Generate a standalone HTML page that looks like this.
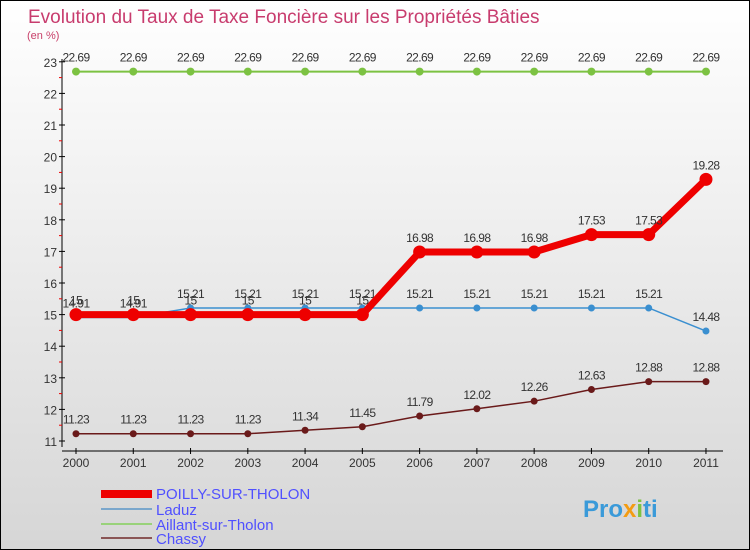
<!DOCTYPE html>
<html><head><meta charset="utf-8"><style>
body{margin:0}
#c{position:relative;width:748px;height:548px;border:1px solid #000;background:linear-gradient(#fff,#d6d6d6);font-family:"Liberation Sans",sans-serif;overflow:hidden}
</style></head><body>
<div id="c">
<svg id="s" width="748" height="548">
<text x="27" y="22" font-size="19" fill="#c83c6e" font-weight="normal">Evolution du Taux de Taxe Foncière sur les Propriétés Bâties</text>
<text x="26" y="38" font-size="11" fill="#c8406a">(en %)</text>
<g id="g"></g>
<g>
<rect x="100" y="489" width="51" height="8" fill="#e00"/>
<text x="155" y="498" font-size="15" fill="#5050ff">POILLY-SUR-THOLON</text>
<rect x="100" y="507" width="51" height="2" fill="#7ba7cc"/>
<text x="155" y="514" font-size="15" fill="#5050ff">Laduz</text>
<rect x="100" y="522" width="51" height="2" fill="#99d27a"/>
<text x="155" y="529" font-size="15" fill="#5050ff">Aillant-sur-Tholon</text>
<rect x="100" y="536" width="51" height="2" fill="#8a5555"/>
<text x="155" y="543" font-size="15" fill="#5050ff">Chassy</text>
</g>
<text x="582" y="516" font-size="24" font-weight="bold" fill="#3a9ad9">Pro<tspan fill="#f39c12">x</tspan><tspan fill="#7cc242">i</tspan>ti</text>
</svg>
</div>
<script>
const years=[2000,2001,2002,2003,2004,2005,2006,2007,2008,2009,2010,2011];
const poilly=[15,15,15,15,15,15,16.98,16.98,16.98,17.53,17.53,19.28];
const laduz=[14.91,14.91,15.21,15.21,15.21,15.21,15.21,15.21,15.21,15.21,15.21,14.48];
const aillant=[22.69,22.69,22.69,22.69,22.69,22.69,22.69,22.69,22.69,22.69,22.69,22.69];
const chassy=[11.23,11.23,11.23,11.23,11.34,11.45,11.79,12.02,12.26,12.63,12.88,12.88];
const yTicks=[11,12,13,14,15,16,17,18,19,20,21,22,23];
const NS='http://www.w3.org/2000/svg';
const g=document.getElementById('g');
const X=i=>75+i*57.27, Y=v=>440-(v-11)*31.6;
function mk(t,a,p){const e=document.createElementNS(NS,t);for(const k in a)e.setAttribute(k,a[k]);(p||g).appendChild(e);return e;}
let e=mk('line',{x1:61,y1:58,x2:61,y2:446,stroke:'#000'});


e=mk('line',{x1:61,y1:450,x2:722,y2:450,stroke:'#000'});


yTicks.forEach(v=>{
 e=mk('line',{x1:58,y1:Y(v),x2:64,y2:Y(v),stroke:'#000'});
 
 
 if(v<23){e=mk('line',{x1:58,y1:Y(v+0.5),x2:61,y2:Y(v+0.5),stroke:'#e00'});
 
 }
 e=mk('text',{x:56,y:Y(v)+5,'font-size':12,'text-anchor':'end',fill:'#333'});e.textContent=v;
 
 
});
years.forEach((y,i)=>{
 e=mk('line',{x1:X(i),y1:447,x2:X(i),y2:453,stroke:'#000'});
 
 
 e=mk('text',{x:X(i),y:466,'font-size':12,'text-anchor':'middle',fill:'#333'});e.textContent=y;
 
 
});
function series(d,col,w,r,name){
 e=mk('polyline',{points:d.map((v,i)=>X(i)+','+Y(v)).join(' '),fill:'none',stroke:col,'stroke-width':w});
 
 
 d.forEach((v,i)=>{
  e=mk('circle',{cx:X(i),cy:Y(v),r:r,fill:col});
  
  
  e=mk('text',{x:X(i),y:Y(v)-10,'font-size':12,'text-anchor':'middle',fill:'#333','letter-spacing':'-0.6'});e.textContent=v;
  
  
 });
}
series(aillant,'#7cc242',2,4,'aillant');
series(chassy,'#6a1a1a',1.5,3.5,'chassy');
series(laduz,'#3a8fd0',1.5,3.5,'laduz');
series(poilly,'#e00',7,6.5,'poilly');
</script>
</body></html>
